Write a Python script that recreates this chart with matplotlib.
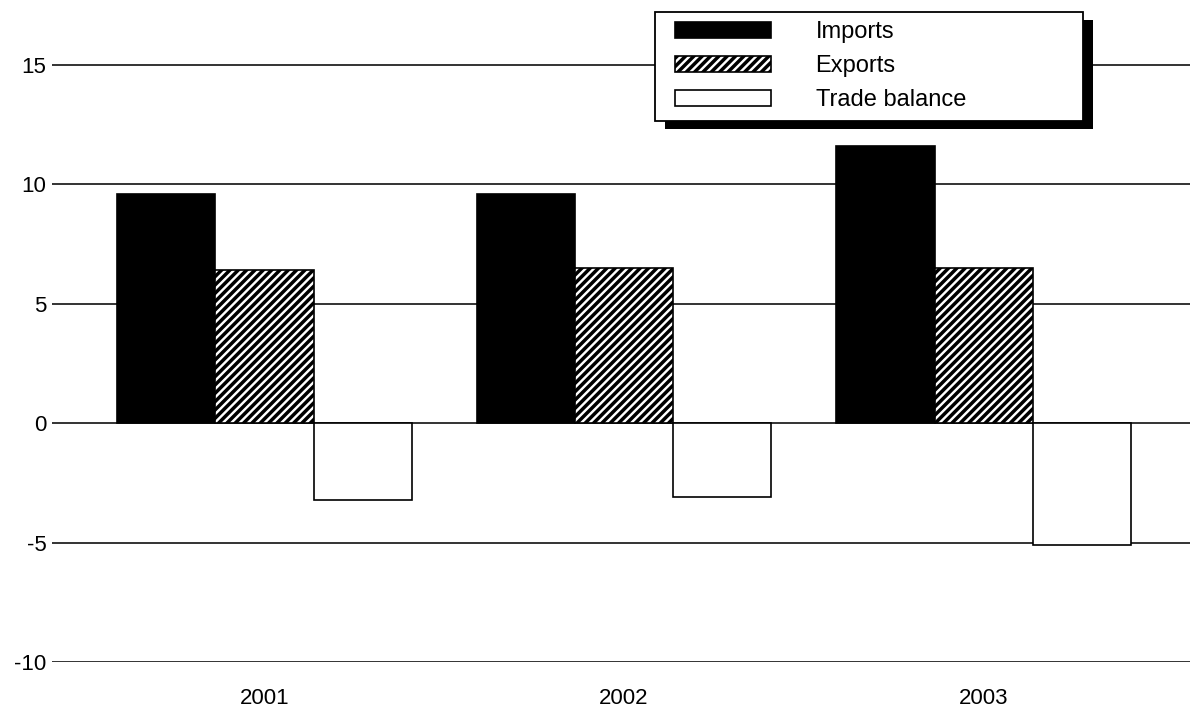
import matplotlib
matplotlib.use("Agg")
import matplotlib.pyplot as plt
from matplotlib.patches import Rectangle
from matplotlib.container import BarContainer
from matplotlib.legend_handler import HandlerPatch, update_from_first_child
import numpy as np

plt.rcParams['font.family'] = ['Liberation Sans', 'DejaVu Sans']
plt.rcParams['axes.unicode_minus'] = False
plt.rcParams['hatch.linewidth'] = 2.5

years = ['2001', '2002', '2003']
imports = [9.6, 9.6, 11.6]
exports = [6.4, 6.5, 6.5]
balance = [-3.2, -3.1, -5.1]

fig = plt.figure(figsize=(11.9, 7.11), dpi=100)
ax = fig.add_axes([52 / 1190, 49 / 711, 1 - 52 / 1190, 662 / 711])

x = np.arange(len(years))
w = 0.273

ax.bar(x - w, imports, w, color='black', edgecolor='black', linewidth=1.2,
       label='Imports', zorder=3)
ax.bar(x, exports, w, color='white', edgecolor='black', hatch='////',
       linewidth=1.2, label='Exports', zorder=3)
ax.bar(x + w, balance, w, color='white', edgecolor='black', linewidth=1.2,
       label='Trade balance', zorder=3)

ax.set_xlim(-0.591, 2.574)
ax.set_ylim(-10, 17.72)
ax.set_yticks([-10, -5, 0, 5, 10, 15])
ax.set_xticks(x)
ax.set_xticklabels(years)
ax.yaxis.grid(True, color='#111111', linewidth=1.2, zorder=0)
ax.set_axisbelow(True)
for s in ax.spines.values():
    s.set_visible(False)
ax.tick_params(axis='y', length=0, pad=4, labelsize=16)
ax.tick_params(axis='x', length=0, pad=19, labelsize=16)

handles, labels = ax.get_legend_handles_labels()
hmap = {BarContainer: HandlerPatch(update_func=update_from_first_child, xpad=0.45)}
leg = fig.legend(handles, labels, loc='upper left', handler_map=hmap,
                 bbox_to_anchor=(655 / 1190, 1 - 12 / 711 - 0.01, 428 / 1190, 0.01),
                 mode='expand', borderaxespad=0, fancybox=False, framealpha=1,
                 edgecolor='black', fontsize=17, handlelength=4.5,
                 handleheight=0.7, handletextpad=1.9, labelspacing=0.5,
                 borderpad=0.4)
leg.get_frame().set_linewidth(1.3)
leg.set_zorder(6)

# drop shadow behind the legend box
fig.canvas.draw()
bb = leg.get_window_extent().transformed(fig.transFigure.inverted())
dx, dy = 10 / 1190, 8 / 711
fig.add_artist(Rectangle((bb.x0 + dx, bb.y0 - dy), bb.width, bb.height,
                         transform=fig.transFigure, facecolor='black',
                         edgecolor='none', zorder=5))

fig.savefig('out.png', dpi=100)
